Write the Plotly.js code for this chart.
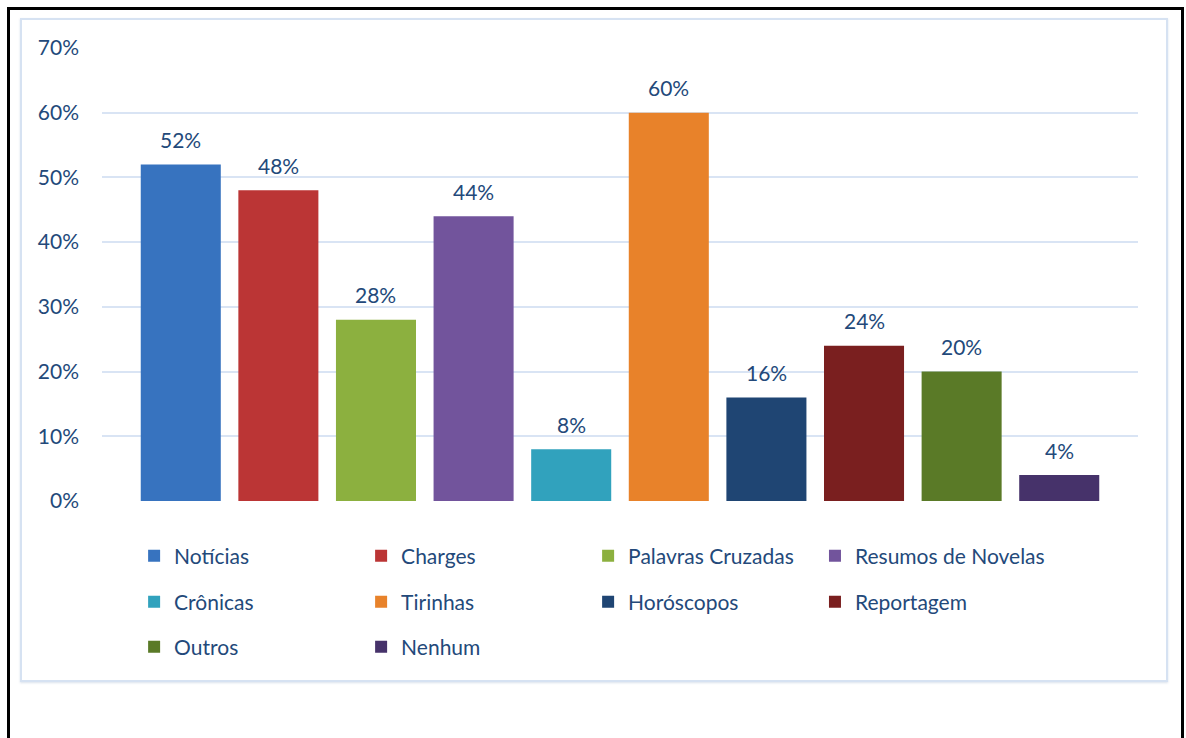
<!DOCTYPE html>
<html>
<head>
<meta charset="utf-8">
<script src="https://cdn.plot.ly/plotly-3.0.1.min.js"></script>
<style>
  html, body { margin: 0; padding: 0; background: #fff; }
  #wrap { position: relative; width: 1186px; height: 738px; overflow: hidden; }
  #chart { position: absolute; left: 0; top: 0; width: 1186px; height: 738px; }
  #outer { position: absolute; left: 7px; top: 7px; width: 1171px; height: 760px;
           border: 3px solid #000; pointer-events: none; }
  #inner { position: absolute; left: 20px; top: 18px; width: 1144px; height: 660px;
           border: 2px solid #d6e2f2; box-shadow: 0 1px 2px rgba(150,170,200,0.35); pointer-events: none; }
</style>
</head>
<body>
<div id="wrap">
  <div id="chart"></div>
  <div id="inner"></div>
  <div id="outer"></div>
</div>
<script>
// ---- data ----
const categories = ["Notícias", "Charges", "Palavras Cruzadas", "Resumos de Novelas", "Crônicas",
                    "Tirinhas", "Horóscopos", "Reportagem", "Outros", "Nenhum"];
const values = [0.52, 0.48, 0.28, 0.44, 0.08, 0.60, 0.16, 0.24, 0.20, 0.04];
const colors = ["#3773bf", "#bb3535", "#8cb03f", "#72549c", "#31a2bd",
                "#e8822a", "#1f4573", "#7a1f1f", "#5a7a27", "#46326a"];
// legend group for each entry (rows of 4 columns; 4th column in its own legend so it is not clipped)
const legendRow = ["legend", "legend", "legend", "legend4", "legend2",
                   "legend2", "legend2", "legend5", "legend3", "legend3"];
const yTicks = [0, 0.1, 0.2, 0.3, 0.4, 0.5, 0.6, 0.7];

const FONT = "Lato, 'Open Sans', sans-serif";
const TXT = "#23497a";

const traces = categories.map((c, i) => ({
  type: "bar",
  name: c,
  x: [c],
  y: [values[i]],
  width: 0.82,
  marker: { color: colors[i], line: { width: 0 } },
  legend: legendRow[i],
  hoverinfo: "skip"
}));

const annotations = categories.map((c, i) => ({
  x: c, y: values[i], xref: "x", yref: "y",
  text: Math.round(values[i] * 100) + "%",
  showarrow: false, yanchor: "middle", yshift: 25,
  font: { family: FONT, size: 21, color: TXT }
}));

const legendBase = {
  orientation: "h",
  x: 0.031, xanchor: "left",
  yanchor: "middle",
  entrywidth: 182, entrywidthmode: "pixels",
  font: { family: FONT, size: 21, color: TXT },
  bgcolor: "rgba(0,0,0,0)",
  traceorder: "normal"
};
const col4 = { x: 0.6882, entrywidth: 0 };

const layout = {
  width: 1186, height: 738,
  margin: { l: 102, r: 48, t: 48, b: 237 },
  paper_bgcolor: "rgba(0,0,0,0)",
  plot_bgcolor: "rgba(0,0,0,0)",
  barmode: "overlay",
  font: { family: FONT, size: 21, color: TXT },
  xaxis: {
    type: "category", categoryorder: "array", categoryarray: categories,
    range: [-0.807, 9.807], showticklabels: false, showgrid: false,
    zeroline: false, showline: false, ticks: "", fixedrange: true
  },
  yaxis: {
    range: [0, 0.7], tickvals: yTicks, tickformat: ".0%",
    showgrid: true, gridcolor: "#d9e4f4", gridwidth: 2,
    zeroline: false, showline: false, ticks: "",
    ticklabelstandoff: 22, fixedrange: true,
    tickfont: { family: FONT, size: 21, color: TXT }
  },
  legend: Object.assign({}, legendBase, { y: -0.1214 }),
  legend2: Object.assign({}, legendBase, { y: -0.2230 }),
  legend3: Object.assign({}, legendBase, { y: -0.3223 }),
  legend4: Object.assign({}, legendBase, col4, { y: -0.1214 }),
  legend5: Object.assign({}, legendBase, col4, { y: -0.2230 }),
  annotations: annotations,
  showlegend: true
};

Plotly.newPlot("chart", traces, layout, { staticPlot: true, displayModeBar: false });
</script>
</body>
</html>
